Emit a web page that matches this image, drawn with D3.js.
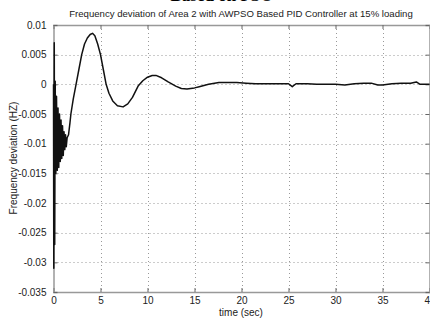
<!DOCTYPE html>
<html><head><meta charset="utf-8">
<script src="https://cdn.jsdelivr.net/npm/d3@7"></script>
<style>body{margin:0;background:#fff;} svg{display:block;}</style>
</head><body>
<svg id="c" width="430" height="318"></svg>
<script>
const xTicks = [0,5,10,15,20,25,30,35,40];
const yTicks = [0.01,0.005,0,-0.005,-0.01,-0.015,-0.02,-0.025,-0.03,-0.035];
const yTickLabels = ["0.01","0.005","0","-0.005","-0.01","-0.015","-0.02","-0.025","-0.03","-0.035"];
const timeSec = [0,0.03,0.08,0.13,0.18,0.25,0.32,0.4,0.48,0.56,0.64,0.72,0.8,0.88,0.96,1.04,1.12,1.2,1.28,1.36,1.45,
  1.6,1.75,1.85,2.1,2.4,2.7,3.0,3.3,3.6,3.9,4.15,4.4,4.7,5.0,5.3,5.6,5.9,6.3,6.8,7.4,7.9,8.4,9.0,9.5,10.0,10.5,10.9,11.5,12.2,13.0,13.6,14.2,15,15.5,16.5,17.6,18.5,19.5,20.5,21.5,22.5,23.5,24.5,25,25.4,25.8,27,28,29,30,31,32,33,33.8,34.5,35,36,37,38,38.6,39,40];
const freqDev = [0,-0.031,0.007,-0.027,0.0005,-0.015,-0.002,-0.0145,-0.004,-0.014,-0.005,-0.013,-0.006,-0.0125,-0.007,-0.012,-0.008,-0.011,-0.0085,-0.0105,-0.009,
  -0.0085,-0.0065,-0.005,-0.0025,0,0.0025,0.005,0.0068,0.0078,0.0084,0.0086,0.0082,0.0068,0.005,0.0025,0,-0.0015,-0.0028,-0.0036,-0.0038,-0.0033,-0.0022,-0.0003,0.0006,0.0012,0.0015,0.0015,0.0011,0.0004,-0.0003,-0.0007,-0.0008,-0.0006,-0.0004,0,0.0003,0.0003,0.0003,0.0002,0.0001,0.0001,0.0001,0.0001,0.0001,-0.0004,0.0001,0.0001,0,0,0,-0.0001,0.0001,0.0002,0.0002,-0.0001,-0.0001,0.0001,0.0002,0.0002,0.0004,0,0];

const svg = d3.select("#c");
const L=53.5, R=429.5, T=25, B=292;
const x = d3.scaleLinear().domain([0,40]).range([L,R]);
const y = d3.scaleLinear().domain([-0.035,0.01]).range([B,T]);
const font = "Arial, 'Liberation Sans', Helvetica, sans-serif";

// clipped big heading at very top
svg.append("text").attr("x",222).attr("y",1).attr("text-anchor","middle")
  .attr("font-family","'Liberation Serif','Times New Roman',serif").attr("font-weight","bold")
  .attr("font-size",17).attr("fill","#000").text("Based on PSO");

// grid
const grid = svg.append("g").attr("stroke","#999").attr("stroke-width",1).attr("stroke-dasharray","1,3");
grid.selectAll(".gx").data(xTicks.filter(d=>d>0&&d<40)).join("line")
  .attr("x1",d=>Math.round(x(d))+0.5).attr("x2",d=>Math.round(x(d))+0.5).attr("y1",T).attr("y2",B);
grid.selectAll(".gy").data(yTicks.filter(d=>d<0.01&&d>-0.035)).join("line")
  .attr("y1",d=>Math.round(y(d))+0.5).attr("y2",d=>Math.round(y(d))+0.5).attr("x1",L).attr("x2",R);

// axes
const axB = d3.axisBottom(x).tickValues(xTicks).tickSize(-4).tickPadding(5).tickFormat(d3.format("d"));
const axT = d3.axisTop(x).tickValues(xTicks).tickSize(-4).tickFormat("");
const axL = d3.axisLeft(y).tickValues(yTicks).tickSize(-4).tickPadding(7).tickFormat((d,i)=>yTickLabels[i]);
const axR = d3.axisRight(y).tickValues(yTicks).tickSize(-4).tickFormat("");
function style(g){
  g.selectAll("path").attr("stroke","#888");
  g.selectAll("line").attr("stroke","#666");
  g.selectAll("text").attr("font-family",font).attr("font-size",10).attr("fill","#222");
}
svg.append("g").attr("transform",`translate(0,${B})`).call(axB).call(style);
svg.append("g").attr("transform",`translate(0,${T})`).call(axT).call(style);
svg.append("g").attr("transform",`translate(${L},0)`).call(axL).call(style);
svg.append("g").attr("transform",`translate(${R},0)`).call(axR).call(style);
svg.selectAll(".domain").attr("stroke","#999").attr("stroke-width",1.5);

// curve
const pts = timeSec.map((t,i)=>[t,freqDev[i]]);
svg.append("path").datum(pts).attr("fill","none").attr("stroke","#111").attr("stroke-width",1.5)
  .attr("stroke-linejoin","round")
  .attr("d",d3.line().x(d=>x(d[0])).y(d=>y(d[1])));

// texts
svg.append("text").attr("x",241).attr("y",17).attr("text-anchor","middle")
  .attr("font-family",font).attr("font-size",9.6).attr("fill","#222")
  .text("Frequency deviation of Area 2 with AWPSO Based PID Controller at 15% loading");
svg.append("text").attr("x",241).attr("y",316).attr("text-anchor","middle")
  .attr("font-family",font).attr("font-size",10).attr("fill","#222").text("time (sec)");
svg.append("text").attr("transform","translate(17,158) rotate(-90)").attr("text-anchor","middle")
  .attr("font-family",font).attr("font-size",10).attr("fill","#222").text("Frequency deviation (HZ)");
</script>
</body></html>
